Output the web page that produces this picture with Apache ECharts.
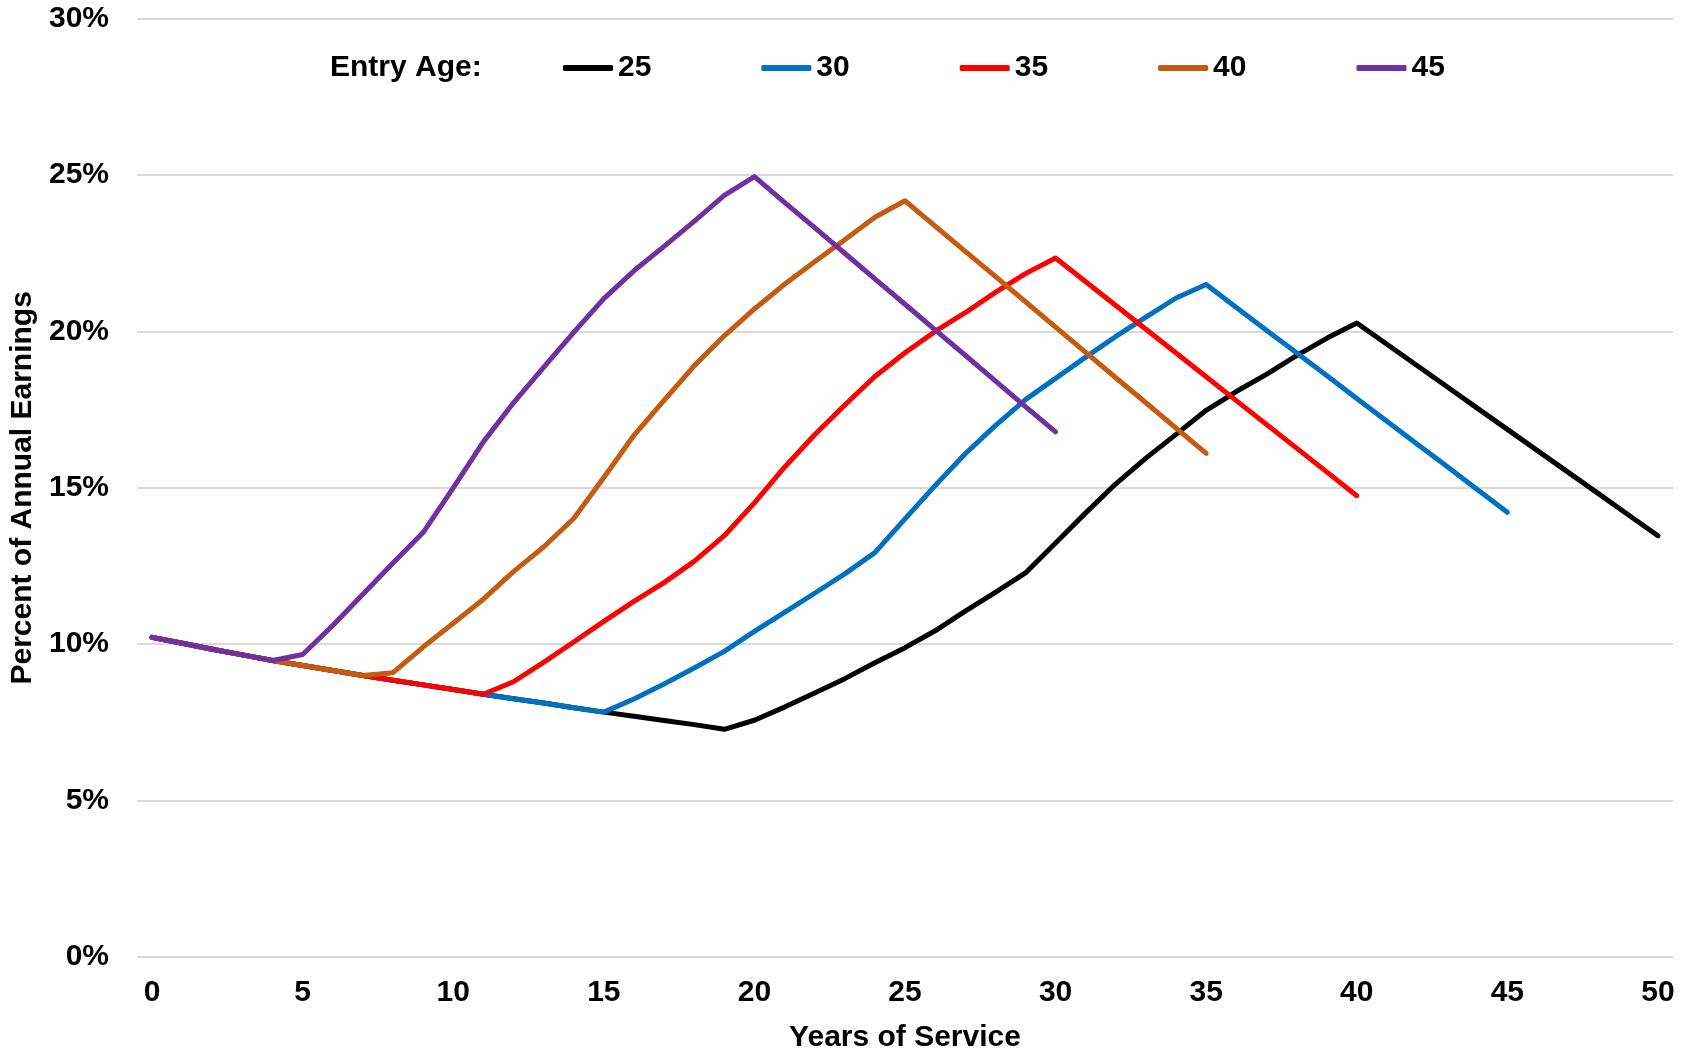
<!DOCTYPE html>
<html>
<head>
<meta charset="utf-8">
<script src="https://cdn.jsdelivr.net/npm/echarts@6/dist/echarts.min.js"></script>
<style>
  html, body { margin: 0; padding: 0; background: #ffffff; }
  #chart { width: 1692px; height: 1058px; }
</style>
</head>
<body>
<div id="chart"></div>
<script>
// Years of service (category axis 0..50)
const years = ["0","1","2","3","4","5","6","7","8","9","10","11","12","13","14","15","16","17","18","19","20","21","22","23","24","25","26","27","28","29","30","31","32","33","34","35","36","37","38","39","40","41","42","43","44","45","46","47","48","49","50"];

const seriesNames = ["25", "30", "35", "40", "45"];
const seriesColors = ["#000000", "#0070C0", "#FF0000", "#C55A11", "#7030A0"];

// Percent of annual earnings, by years of service, for each entry age
const entry25 = [10.22,10.03,9.84,9.66,9.48,9.32,9.16,9.00,8.85,8.70,8.55,8.40,8.26,8.12,7.97,7.83,7.70,7.56,7.43,7.28,
  7.57,7.99,8.44,8.90,9.41,9.89,10.43,11.06,11.66,12.28,13.24,14.20,15.13,15.95,16.71,17.48,18.08,18.63,19.23,19.78,
  20.27,19.59,18.91,18.23,17.55,16.87,16.19,15.51,14.83,14.15,13.47];
const entry30 = [10.22,10.03,9.84,9.66,9.48,9.32,9.16,9.00,8.85,8.70,8.55,8.40,8.26,8.12,7.97,7.83,
  8.25,8.73,9.24,9.77,10.41,11.02,11.63,12.25,12.93,14.01,15.07,16.09,16.99,17.82,18.50,19.18,19.84,20.46,21.07,21.50,
  20.77,20.04,19.32,18.59,17.86,17.13,16.40,15.68,14.95,14.22,null,null,null,null,null];
const entry35 = [10.22,10.03,9.84,9.66,9.48,9.32,9.16,9.00,8.85,8.70,8.55,8.40,
  8.80,9.42,10.07,10.73,11.37,11.97,12.65,13.47,14.52,15.66,16.70,17.65,18.56,19.32,20.00,20.60,21.25,21.85,22.35,
  21.59,20.83,20.07,19.31,18.55,17.79,17.03,16.27,15.51,14.75,null,null,null,null,null,null,null,null,null,null];
const entry40 = [10.22,10.03,9.84,9.66,9.48,9.32,9.16,9.00,
  9.09,9.91,10.67,11.44,12.32,13.11,14.02,15.33,16.68,17.80,18.90,19.86,20.72,21.51,22.23,22.93,23.65,24.18,
  23.37,22.56,21.76,20.95,20.14,19.33,18.52,17.72,16.91,16.10,null,null,null,null,null,null,null,null,null,null,null,null,null,null,null];
const entry45 = [10.22,10.03,9.84,9.66,9.48,
  9.67,10.60,11.60,12.60,13.57,15.00,16.47,17.72,18.85,19.97,21.05,21.94,22.72,23.52,24.35,24.95,
  24.13,23.32,22.50,21.68,20.87,20.05,19.24,18.42,17.60,16.79,null,null,null,null,null,null,null,null,null,null,null,null,null,null,null,null,null,null,null,null];

const allData = [entry25, entry30, entry35, entry40, entry45];

const yTicks = { min: 0, max: 30, interval: 5 };

const FONT = "Arial, 'Liberation Sans', sans-serif";

const chart = echarts.init(document.getElementById('chart'), null, { renderer: 'canvas' });

const series = seriesNames.map((name, i) => ({
  name: name,
  type: 'line',
  data: allData[i],
  symbol: 'none',
  showSymbol: false,
  connectNulls: false,
  lineStyle: { color: seriesColors[i], width: 5, cap: 'round', join: 'round' },
  itemStyle: { color: seriesColors[i] },
  emphasis: { disabled: true },
  animation: false
}));

chart.setOption({
  animation: false,
  backgroundColor: '#ffffff',
  graphic: [{
    type: 'text',
    x: 330,
    y: 68,
    style: {
      text: 'Entry Age:',
      fontFamily: FONT,
      fontSize: 30,
      fontWeight: 'bold',
      fill: '#000000',
      verticalAlign: 'middle',
      align: 'left'
    }
  }],
  legend: {
    data: seriesNames,
    left: 558,
    top: 48,
    icon: 'roundRect',
    itemWidth: 50,
    itemHeight: 6,
    itemGap: 110,
    textStyle: { fontFamily: FONT, fontSize: 30, fontWeight: 'bold', color: '#000000' }
  },
  grid: { left: 137, right: 19, top: 18.7, bottom: 95.8, containLabel: false },
  xAxis: {
    type: 'category',
    data: years,
    boundaryGap: true,
    name: 'Years of Service',
    nameLocation: 'middle',
    nameGap: 66,
    nameTextStyle: { fontFamily: FONT, fontSize: 30, fontWeight: 'bold', color: '#000000' },
    axisLine: { show: false },
    axisTick: { show: false },
    axisLabel: { interval: 4, margin: 21, fontFamily: FONT, fontSize: 30, fontWeight: 'bold', color: '#000000' },
    splitLine: { show: false }
  },
  yAxis: {
    type: 'value',
    min: yTicks.min,
    max: yTicks.max,
    interval: yTicks.interval,
    name: 'Percent of Annual Earnings',
    nameLocation: 'middle',
    nameGap: 97,
    nameRotate: 90,
    nameTextStyle: { fontFamily: FONT, fontSize: 30, fontWeight: 'bold', color: '#000000' },
    axisLine: { show: false },
    axisTick: { show: false },
    axisLabel: { margin: 28, formatter: '{value}%', fontFamily: FONT, fontSize: 30, fontWeight: 'bold', color: '#000000' },
    splitLine: { show: true, lineStyle: { color: '#D9D9D9', width: 2 } }
  },
  series: series
});
</script>
</body>
</html>
